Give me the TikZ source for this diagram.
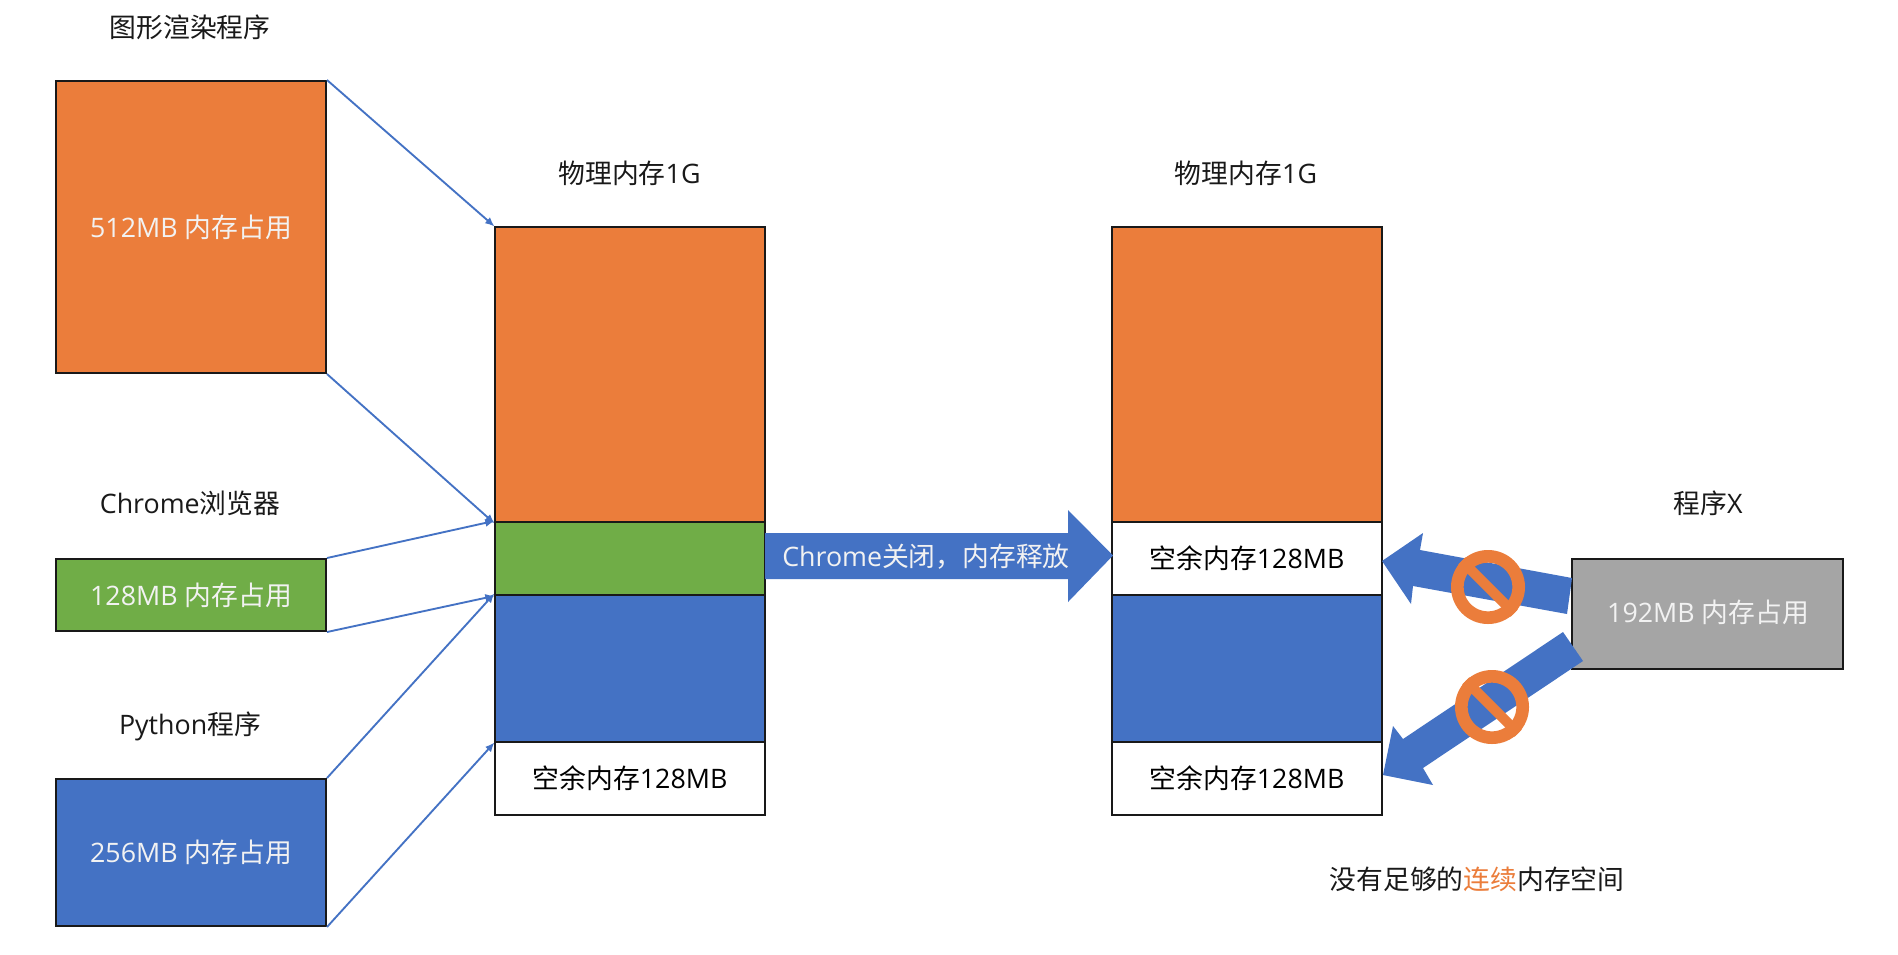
\documentclass[tikz,border=0pt]{standalone}
\usepackage{fontspec}
\setmainfont{Open Sans}
\newfontfamily\cjkfont{Noto Sans CJK SC}
\newcommand{\zh}[1]{{\cjkfont #1}}
\usetikzlibrary{arrows.meta}
\definecolor{ofill}{HTML}{EB7D3B}
\definecolor{gfill}{HTML}{70AD47}
\definecolor{bfill}{HTML}{4472C4}
\definecolor{xfill}{HTML}{A5A5A5}
\definecolor{wtext}{HTML}{F2F2F2}
\tikzset{
  blockbox/.style={draw=black!90,line width=1.5pt,inner sep=0pt,anchor=north west,align=center,font=\fontsize{20.1}{23}\selectfont,text=wtext},
  freebox/.style={blockbox,text=black,fill=white},
  caption/.style={inner sep=0pt,font=\fontsize{20.1}{23}\selectfont,text=black!90},
  link/.style={draw=bfill,line width=1.4pt,-{Latex[length=7pt,width=6pt]},shorten >=-0.5pt},
  bigarrow/.style={fill=bfill,draw=none},
  ring/.style={circle,draw=ofill,line width=9.5pt,minimum size=46pt,inner sep=0pt},
  ringbar/.style={draw=ofill,line width=7.5pt}
}
\newcommand{\bbox}[7]{\node[#2,minimum width=#5*0.75pt,minimum height=#6*0.75pt] (#1) at (#3,#4) {#7};}
\begin{document}
\begin{tikzpicture}[x=0.75pt,y=-0.75pt]
\useasboundingbox[fill=white] (0,0) rectangle (1898,954);

% source boxes
\bbox{srcO}{blockbox,fill=ofill}{55}{80}{270}{292}{\raisebox{-1.5pt}{512MB \zh{内存占用}}}
\bbox{srcG}{blockbox,fill=gfill}{55}{558}{270}{72}{128MB \zh{内存占用}}
\bbox{srcB}{blockbox,fill=bfill}{55}{778}{270}{147}{256MB \zh{内存占用}}

% middle column
\bbox{midO}{blockbox,fill=ofill}{494}{226}{270}{295}{}
\bbox{midG}{blockbox,fill=gfill}{494}{521}{270}{73}{}
\bbox{midB}{blockbox,fill=bfill}{494}{594}{270}{147}{}
\bbox{midF}{freebox}{494}{741}{270}{73}{\zh{空余内存}128MB}

% right column
\bbox{rgtO}{blockbox,fill=ofill}{1111}{226}{270}{295}{}
\bbox{rgtA}{freebox}{1111}{521}{270}{73}{\zh{空余内存}128MB}
\bbox{rgtB}{blockbox,fill=bfill}{1111}{594}{270}{147}{}
\bbox{rgtF}{freebox}{1111}{741}{270}{73}{\zh{空余内存}128MB}

% program X
\node[blockbox,fill=xfill,minimum width=271*0.75pt,minimum height=110*0.75pt] (prgX) at (1571,558) {};
\node[inner sep=0pt,font=\fontsize{20.1}{23}\selectfont,text=wtext] (prgT) at (1708,612) {192MB \zh{内存占用}};

% captions
\node[caption] (t1) at (190,27) {\zh{图形渲染程序}};
\node[caption] (t2) at (190,503) {Chrome\zh{浏览器}};
\node[caption] (t3) at (190,726) {Python\zh{程序}};
\node[caption] (t4) at (629.5,173) {\zh{物理内存}1G};
\node[caption] (t5) at (1246,173) {\zh{物理内存}1G};
\node[caption] (t6) at (1708,503) {\zh{程序}X};
\node[caption] (t7) at (1477,879) {\zh{没有足够的\textcolor{ofill}{连续}内存空间}};

% thin connectors
\draw[link] (srcO.north east) -- (midO.north west);
\draw[link] (srcO.south east) -- (midO.south west);
\draw[link] (srcG.north east) -- (midG.north west);
\draw[link] (srcG.south east) -- (midG.south west);
\draw[link] (srcB.north east) -- (midB.north west);
\draw[link] (srcB.south east) -- (midB.south west);

% big arrow
\fill[bigarrow] (765,533) -- (1068,533) -- (1068,510) -- (1113,555.5) -- (1068,602) -- (1068,579) -- (765,579) -- cycle;
\node[inner sep=0pt,font=\fontsize{20.1}{23}\selectfont,text=wtext] (rel) at (926,557) {Chrome\zh{关闭，内存释放}};

% blocked arrows
\fill[bigarrow] (1382,561) -- (1423,533) -- (1420,550) -- (1572,578) -- (1567,614) -- (1413,586) -- (1411,604) -- cycle;
\fill[bigarrow] (1383,775) -- (1393,726) -- (1403,739) -- (1563,632) -- (1583,661) -- (1423,768) -- (1433,785) -- cycle;

% prohibition signs
\node[ring] (noA) at (1488,587) {};
\draw[ringbar] (noA.135) -- (noA.-45);
\node[ring] (noB) at (1492,707) {};
\draw[ringbar] (noB.135) -- (noB.-45);
\end{tikzpicture}
\end{document}
